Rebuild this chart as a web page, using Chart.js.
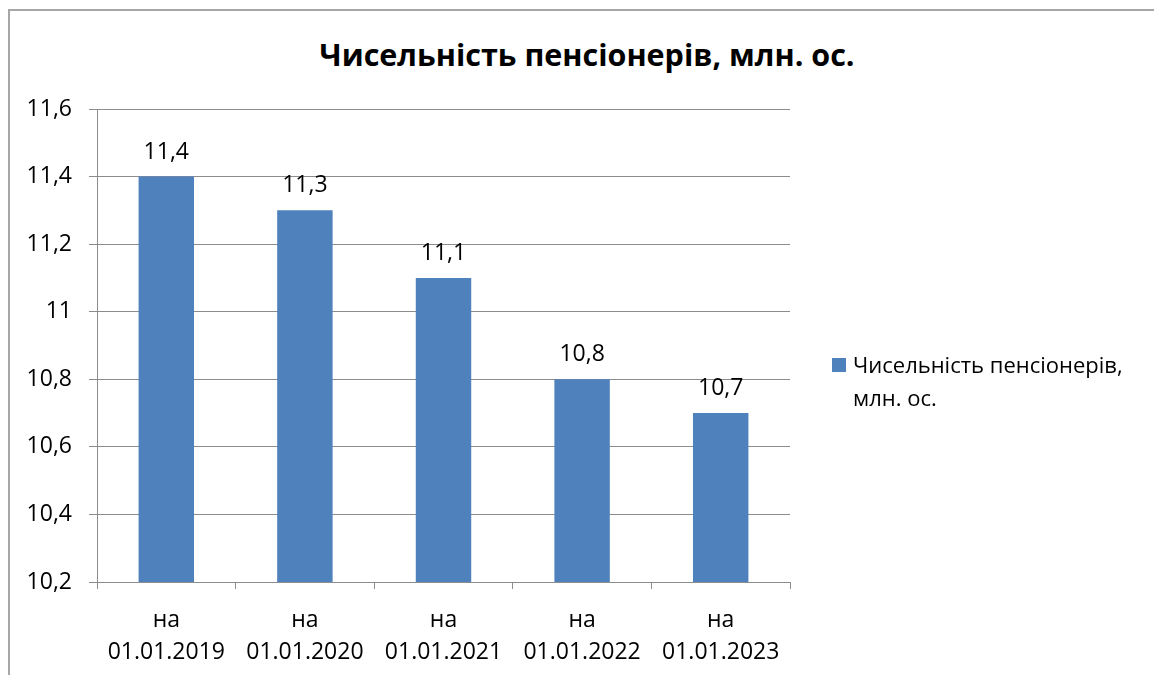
<!DOCTYPE html>
<html lang="uk">
<head>
<meta charset="utf-8">
<title>Чисельність пенсіонерів</title>
<script src="https://cdn.jsdelivr.net/npm/chart.js@4.4.1/dist/chart.umd.min.js"></script>
<style>
    body { margin: 0; background: #fff; font-family: "Open Sans", sans-serif; color: #000; overflow: hidden; }
    #wrap { position: relative; width: 1154px; height: 675px; overflow: hidden; }
    #frame { position: absolute; left: 8px; top: 9px; width: 1300px; height: 800px;
             border-left: 2px solid #a6a6a6; border-top: 2px solid #a6a6a6; }
    #title { position: absolute; left: 0; width: 1174px; top: 34px; text-align: center;
             font-weight: bold; font-size: 30.5px; line-height: 40px; }
    #legend { position: absolute; left: 832px; top: 348px; width: 320px; font-size: 22px; line-height: 33px; }
    #legend .box { position: absolute; left: 0; top: 10px; width: 14px; height: 14px; }
    #legend .txt { margin-left: 21px; width: 300px; }
    canvas { position: absolute; left: 0; top: 0; }
</style>
</head>
<body>
<div id="wrap">
    <div id="frame"></div>
    <div id="title"></div>
    <canvas id="chart" width="1154" height="675"></canvas>
    <div id="legend"></div>
</div>
<script>
// Data
const chartTitle = "Чисельність пенсіонерів, млн. ос.";
const seriesName = "Чисельність пенсіонерів, млн. ос.";
const categories = [
    ["на", "01.01.2019"],
    ["на", "01.01.2020"],
    ["на", "01.01.2021"],
    ["на", "01.01.2022"],
    ["на", "01.01.2023"]
];
const pensioners = [11.4, 11.3, 11.1, 10.8, 10.7];
const yTickLabels = ["10,2", "10,4", "10,6", "10,8", "11", "11,2", "11,4", "11,6"];

const barColor = "#4F81BD";
const gridColor = "#8c8c8c";
const fontFamily = '"Open Sans", sans-serif';

document.getElementById("title").textContent = chartTitle;

// Value labels above each bar
const valueLabels = {
    id: "valueLabels",
    afterDatasetsDraw(chart) {
        const ctx = chart.ctx;
        const meta = chart.getDatasetMeta(0);
        ctx.save();
        ctx.font = "23px " + fontFamily;
        ctx.fillStyle = "#000";
        ctx.textAlign = "center";
        ctx.textBaseline = "bottom";
        meta.data.forEach((bar, i) => {
            const txt = String(chart.data.datasets[0].data[i]).replace(".", ",");
            ctx.fillText(txt, bar.x, bar.y - 13);
        });
        ctx.restore();
    }
};

const chart = new Chart(document.getElementById("chart").getContext("2d"), {
    type: "bar",
    data: {
        labels: categories,
        datasets: [{
            label: seriesName,
            data: pensioners,
            backgroundColor: barColor,
            borderWidth: 0,
            barPercentage: 0.4,
            categoryPercentage: 1
        }]
    },
    options: {
        responsive: false,
        animation: false,
        layout: { padding: { left: 0, right: 364, top: 109, bottom: 0 } },
        plugins: {
            legend: { display: false },
            title: { display: false },
            tooltip: { enabled: false }
        },
        scales: {
            x: {
                grid: { display: true, drawOnChartArea: false, color: gridColor, tickLength: 7, offset: true },
                border: { color: gridColor, width: 1 },
                ticks: {
                    color: "#000",
                    font: { family: fontFamily, size: 23, lineHeight: 1.4 },
                    padding: 15,
                    maxRotation: 0,
                    autoSkip: false
                },
                afterFit(scale) { scale.height = 93; }
            },
            y: {
                min: 10.2,
                max: 11.6,
                grid: { color: gridColor, tickLength: 8 },
                border: { color: gridColor, width: 1 },
                ticks: {
                    stepSize: 0.2,
                    color: "#000",
                    font: { family: fontFamily, size: 23 },
                    padding: 17,
                    callback: (v, i) => yTickLabels[i]
                },
                afterFit(scale) { scale.width = 97; }
            }
        }
    },
    plugins: [valueLabels]
});

// Legend built from the dataset
const legend = document.getElementById("legend");
chart.data.datasets.forEach(ds => {
    const box = document.createElement("div");
    box.className = "box";
    box.style.background = ds.backgroundColor;
    const txt = document.createElement("div");
    txt.className = "txt";
    txt.textContent = ds.label;
    legend.appendChild(box);
    legend.appendChild(txt);
});
</script>
</body>
</html>
